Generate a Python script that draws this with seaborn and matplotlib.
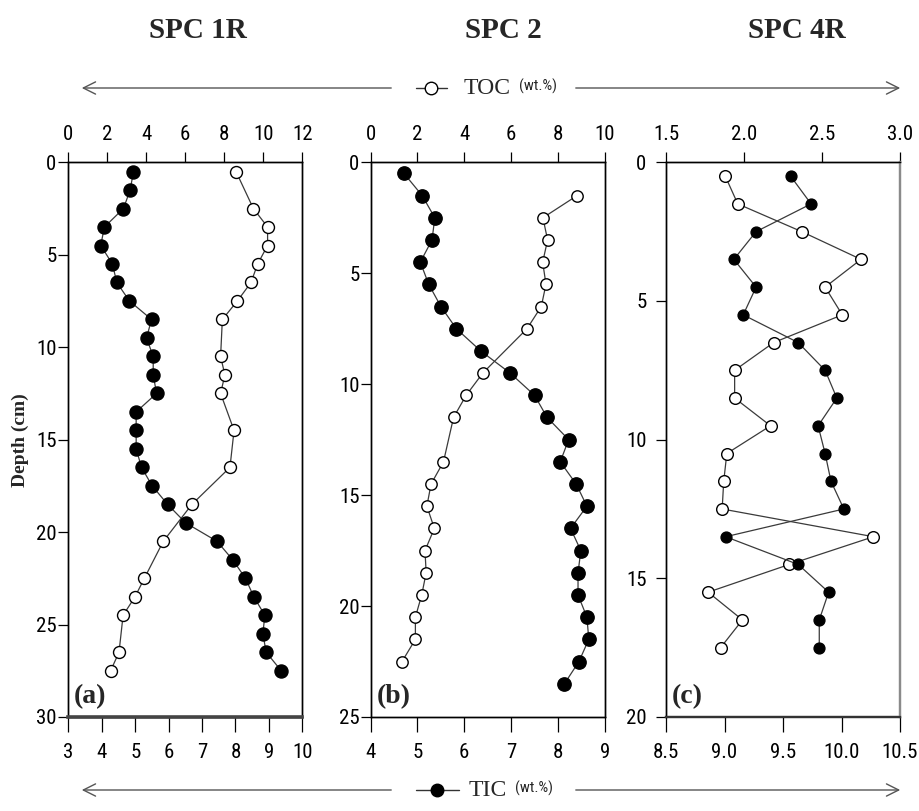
import matplotlib
matplotlib.use("Agg")
import numpy as np
import pandas as pd
import matplotlib.pyplot as plt
import seaborn as sns
from matplotlib import font_manager
from matplotlib.patches import FancyArrowPatch
from matplotlib.lines import Line2D

# ---------------- data ----------------
# Panel (a) SPC 1R
depth_a_tic = [0.5, 1.5, 2.5, 3.5, 4.5, 5.5, 6.5, 7.5, 8.5, 9.5, 10.5, 11.5, 12.5, 13.5,
               14.5, 15.5, 16.5, 17.5, 18.5, 19.5, 20.5, 21.5, 22.5, 23.5, 24.5, 25.5, 26.5, 27.5]
tic_a = [4.95, 4.85, 4.65, 4.08, 3.97, 4.32, 4.45, 4.83, 5.49, 5.34, 5.54, 5.54, 5.64, 5.03,
         5.03, 5.03, 5.19, 5.51, 5.97, 6.51, 7.45, 7.92, 8.30, 8.55, 8.88, 8.82, 8.92, 9.37]
depth_a_toc = [0.5, 2.5, 3.5, 4.5, 5.5, 6.5, 7.5, 8.5, 10.5, 11.5, 12.5, 14.5, 16.5, 18.5,
               20.5, 22.5, 23.5, 24.5, 26.5, 27.5]
toc_a = [8.6, 9.49, 10.22, 10.22, 9.71, 9.37, 8.67, 7.9, 7.81, 8.03, 7.81, 8.5, 8.29, 6.34,
         4.87, 3.9, 3.42, 2.81, 2.6, 2.17]

# Panel (b) SPC 2
depth_b_tic = [0.5, 1.5, 2.5, 3.5, 4.5, 5.5, 6.5, 7.5, 8.5, 9.5, 10.5, 11.5, 12.5, 13.5,
               14.5, 15.5, 16.5, 17.5, 18.5, 19.5, 20.5, 21.5, 22.5, 23.5]
tic_b = [4.71, 5.10, 5.37, 5.31, 5.06, 5.24, 5.50, 5.83, 6.35, 6.98, 7.50, 7.77, 8.23, 8.05,
         8.39, 8.62, 8.27, 8.49, 8.43, 8.43, 8.62, 8.66, 8.45, 8.14]
depth_b_toc = [1.5, 2.5, 3.5, 4.5, 5.5, 6.5, 7.5, 9.5, 10.5, 11.5, 13.5, 14.5, 15.5, 16.5,
               17.5, 18.5, 19.5, 20.5, 21.5, 22.5]
toc_b = [8.82, 7.36, 7.56, 7.35, 7.49, 7.29, 6.68, 4.79, 4.08, 3.54, 3.11, 2.58, 2.40, 2.72,
         2.32, 2.37, 2.18, 1.91, 1.91, 1.34]

# Panel (c) SPC 4R
depth_c = [0.5, 1.5, 2.5, 3.5, 4.5, 5.5, 6.5, 7.5, 8.5, 9.5, 10.5, 11.5, 12.5, 13.5, 14.5,
           15.5, 16.5, 17.5]
tic_c = [9.565, 9.74, 9.27, 9.08, 9.27, 9.16, 9.63, 9.86, 9.96, 9.80, 9.86, 9.91, 10.02,
         9.01, 9.63, 9.89, 9.81, 9.81]
toc_c = [1.88, 1.96, 2.37, 2.75, 2.52, 2.63, 2.19, 1.94, 1.94, 2.17, 1.89, 1.87, 1.86,
         2.83, 2.29, 1.77, 1.99, 1.85]

titles = ["SPC 1R", "SPC 2", "SPC 4R"]
panel_labels = ["(a)", "(b)", "(c)"]
toc_ticks = [[0, 2, 4, 6, 8, 10, 12], [0, 2, 4, 6, 8, 10], [1.5, 2.0, 2.5, 3.0]]
tic_ticks = [[3, 4, 5, 6, 7, 8, 9, 10], [4, 5, 6, 7, 8, 9], [8.5, 9.0, 9.5, 10.0, 10.5]]
depth_ticks = [[0, 5, 10, 15, 20, 25, 30], [0, 5, 10, 15, 20, 25], [0, 5, 10, 15, 20]]

# ---------------- style ----------------
sns.set_theme(style="ticks")
avail = {f.name for f in font_manager.fontManager.ttflist}
narrow = next((f for f in ["Liberation Sans Narrow", "Arial Narrow", "Roboto Condensed",
                           "DejaVu Sans Condensed", "Liberation Sans"] if f in avail), "DejaVu Sans")
serif = "Liberation Serif" if "Liberation Serif" in avail else "DejaVu Serif"
plt.rcParams["font.family"] = [narrow, "DejaVu Sans"]

W, H = 920, 811
fig = plt.figure(figsize=(W / 100, H / 100), dpi=100)

lefts = [68.3, 370.7, 666.0]
width = 234.0
top_px, bot_px = 162.3, 717.0

panels = [
    (depth_a_toc, toc_a, depth_a_tic, tic_a),
    (depth_b_toc, toc_b, depth_b_tic, tic_b),
    (depth_c, toc_c, depth_c, tic_c),
]
ms_open = [8.6, 8.2, 8.4]
ms_fill = [9.4, 9.6, 7.8]
ypads = [1.5, 1.0, 7.0]
title_x = [198, 503, 797]

for i, (d_toc, v_toc, d_tic, v_tic) in enumerate(panels):
    ax = fig.add_axes([lefts[i] / W, 1 - bot_px / H, width / W, (bot_px - top_px) / H])
    ax2 = ax.twiny()

    df_toc = pd.DataFrame({"depth": d_toc, "value": v_toc})
    df_tic = pd.DataFrame({"depth": d_tic, "value": v_tic})

    sns.lineplot(data=df_toc, x="value", y="depth", ax=ax, orient="y", estimator=None,
                 errorbar=None, color="#3a3a3a", lw=0.9, marker="o", markersize=ms_open[i],
                 markerfacecolor="white", markeredgecolor="black", markeredgewidth=1.0)
    sns.lineplot(data=df_tic, x="value", y="depth", ax=ax2, orient="y", estimator=None,
                 errorbar=None, color="#3a3a3a", lw=0.9, marker="o", markersize=ms_fill[i],
                 markerfacecolor="black", markeredgecolor="black", markeredgewidth=1.0)

    ax.set_xlim(toc_ticks[i][0], toc_ticks[i][-1])
    ax2.set_xlim(tic_ticks[i][0], tic_ticks[i][-1])
    ax.set_ylim(depth_ticks[i][-1], 0)
    ax.set_xticks(toc_ticks[i])
    ax2.set_xticks(tic_ticks[i])
    ax.set_yticks(depth_ticks[i])
    if i == 2:
        ax.set_xticklabels([f"{t:.1f}" for t in toc_ticks[i]])
        ax2.set_xticklabels([f"{t:.1f}" for t in tic_ticks[i]])
    for a in (ax, ax2):
        a.set_xlabel("")
        a.set_ylabel("")

    ax.xaxis.set_ticks_position("top")
    ax.tick_params(axis="x", top=True, bottom=False, labeltop=True, labelbottom=False,
                   direction="out", length=7.5, width=0.9, pad=6, labelsize=15, colors="black")
    ax.tick_params(axis="y", left=True, right=False, direction="out", length=7,
                   width=0.9, pad=ypads[i], labelsize=15, colors="black")
    ax2.xaxis.set_ticks_position("bottom")
    ax2.tick_params(axis="x", bottom=True, top=False, labelbottom=True, labeltop=False,
                    direction="out", length=11, width=0.9, pad=8, labelsize=15, colors="black")

    for a in (ax, ax2):
        for s in a.spines.values():
            s.set_visible(True)
            s.set_color("black")
            s.set_linewidth(1.0)
    if i == 0:
        ax2.spines["bottom"].set_linewidth(2.6)
        ax2.spines["bottom"].set_color("#444444")
    if i == 2:
        for a in (ax, ax2):
            a.spines["right"].set_color("#8a8a8a")
            a.spines["right"].set_linewidth(1.6)
            a.spines["bottom"].set_linewidth(1.6)
            a.spines["bottom"].set_color("#333333")

    ax.text(0.025, 0.015, panel_labels[i], transform=ax.transAxes, ha="left", va="bottom",
            fontsize=20, fontweight="bold", family=serif)
    fig.text(title_x[i] / W, 1 - 30 / H, titles[i], ha="center", va="center",
             fontsize=21, fontweight="bold", family=serif)

# y label
fig.text(20 / W, 1 - 440 / H, "Depth (cm)", rotation=90, ha="center", va="center",
         fontsize=14, fontweight="bold", family=serif)


# legend rows with arrows
def legend_row(y_px, name, filled, line_end, text_x, wt_x):
    fy = 1 - y_px / H
    for x0, x1 in [(394, 79), (573, 903)]:
        fig.add_artist(FancyArrowPatch((x0 / W, fy), (x1 / W, fy), transform=fig.transFigure,
                                       arrowstyle="->", mutation_scale=22, color="#555555",
                                       lw=1.0))
    fig.add_artist(Line2D([416 / W, line_end / W], [fy, fy], transform=fig.transFigure,
                          color="#333333", lw=1.0))
    mx = (416 + line_end) / 2
    fig.add_artist(Line2D([mx / W], [fy], transform=fig.transFigure, marker="o",
                          markersize=9, markerfacecolor="black" if filled else "white",
                          markeredgecolor="black", markeredgewidth=1.0, lw=0))
    fig.text(text_x / W, fy, name, ha="left", va="center", fontsize=17, family=serif)
    fig.text(wt_x / W, fy + 0.002, "(wt.%)", ha="left", va="center", fontsize=11)


legend_row(88, "TOC", False, 447, 464, 519)
legend_row(790, "TIC", True, 459, 469, 515)

fig.savefig("out.png", dpi=100)
